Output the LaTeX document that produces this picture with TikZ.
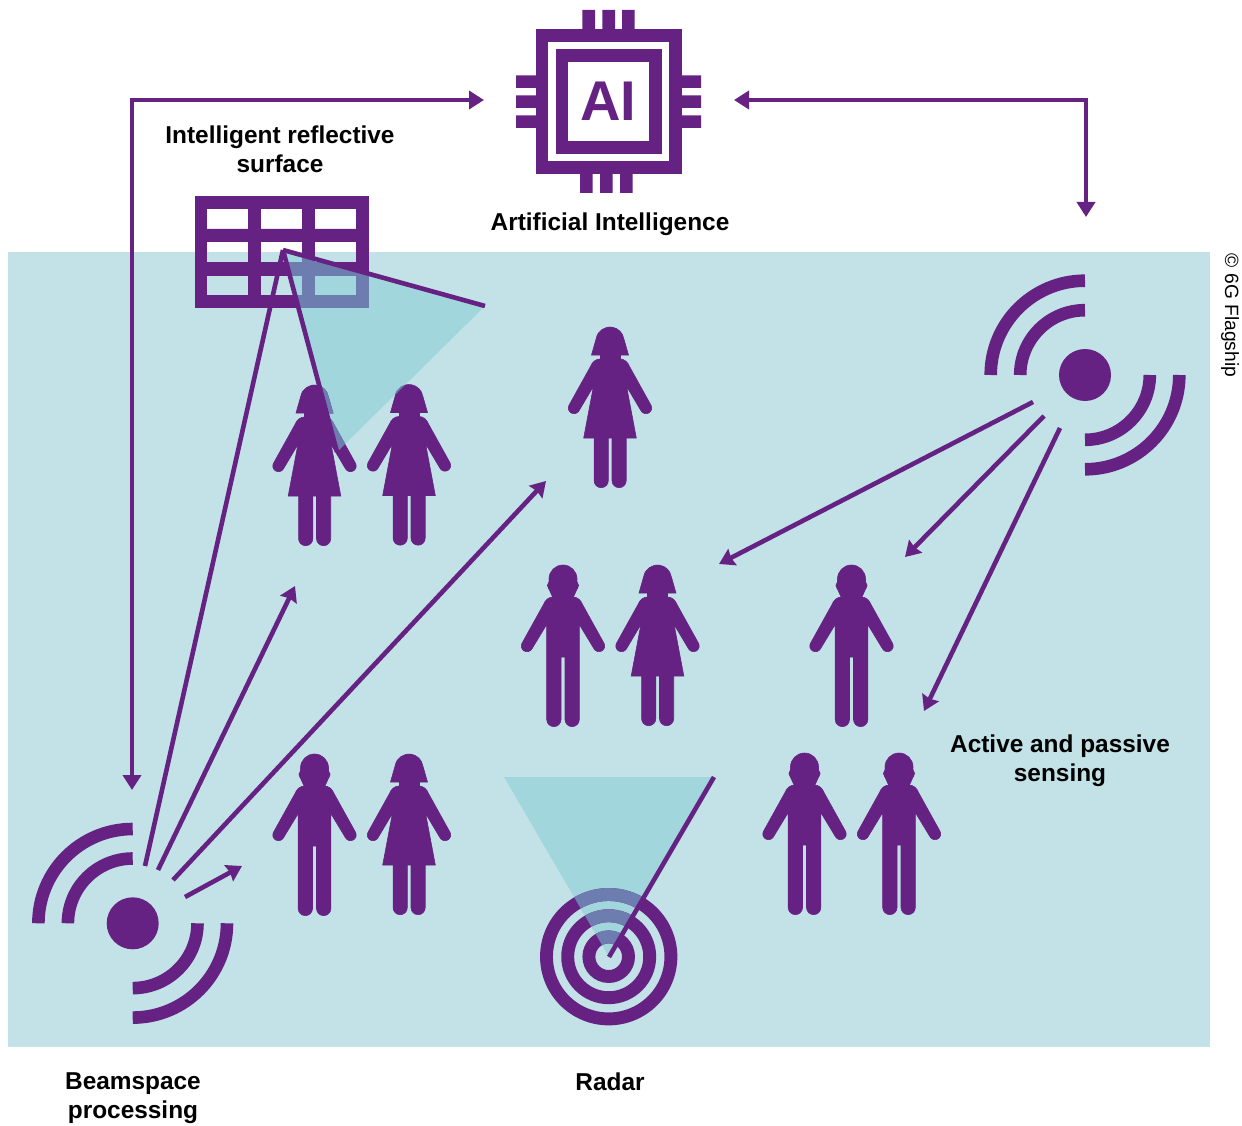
\documentclass[tikz,border=0pt]{standalone}
\usepackage{fontspec}
\setmainfont{Liberation Sans}
\usetikzlibrary{arrows.meta}
\definecolor{plum}{HTML}{662282}
\definecolor{seabg}{HTML}{C2E2E7}
\definecolor{conecol}{HTML}{A1D6DC}
\definecolor{overlap}{HTML}{6D7DB0}
\tikzset{
  label text/.style={font=\fontsize{24.4}{29}\selectfont\bfseries,text=black,align=center,inner sep=0pt},
  ray/.style={plum,line width=4.6pt},
  arrowray/.style={ray,-{Stealth[length=15pt,width=18pt,inset=1.5pt]}},
  bothray/.style={ray,{Stealth[length=15pt,width=18pt,inset=0pt]}-{Stealth[length=15pt,width=18pt,inset=0pt]}},
  wave/.style={plum,line width=12.6pt,line cap=butt},
  solid shape/.style={fill=#1,draw=#1,line width=0.6pt}
}
\newcommand{\manshape}[3]{%
  \begin{scope}[shift={(#1,-#2)}]
  \path[solid shape=#3] (0,-14) circle[radius=14pt] (-11.4,-20.5) circle[radius=4.2pt] (11.4,-20.5) circle[radius=4.2pt];
  \path[solid shape=#3] (-13.8,-15) -- (-14.5,-23) -- (-10,-33) -- (10,-33) -- (14.5,-23) -- (13.8,-15) -- cycle;
  \path[solid shape=#3] (-10,-32) .. controls (-14,-32) and (-18,-35) .. (-19.5,-39.5) -- (-40.94,-78.15) arc[start angle=150,end angle=330,radius=5.7pt] -- (-16.3,-59.5) -- (-16.3,-154.5) arc[start angle=180,end angle=360,radius=7.15pt] -- (-2,-92) -- (2,-92) -- (2,-154.5) arc[start angle=180,end angle=360,radius=7.15pt] -- (16.3,-59.5) -- (31.06,-83.85) arc[start angle=210,end angle=390,radius=5.7pt] -- (19.5,-39.5) .. controls (18,-35) and (14,-32) .. (10,-32) -- cycle;
  \end{scope}}
\newcommand{\womanshape}[3]{%
  \begin{scope}[shift={(#1,-#2)}]
  \path[solid shape=#3] (-18.5,-28) -- (-13.8,-11.6) arc[start angle=170,end angle=10,radius=14pt] -- (18.5,-28) -- cycle;
  \path[solid shape=#3] (-10,-27) rectangle (10,-34);
  \path[solid shape=#3] (-10,-32) .. controls (-14,-32) and (-18,-35) .. (-19.5,-39.5) -- (-40.94,-78.15) arc[start angle=150,end angle=330,radius=5.7pt] -- (-16.6,-59.5) -- (-26.3,-111) -- (26.3,-111) -- (16.6,-59.5) -- (31.06,-83.85) arc[start angle=210,end angle=390,radius=5.7pt] -- (19.5,-39.5) .. controls (18,-35) and (14,-32) .. (10,-32) -- cycle;
  \path[solid shape=#3] (-15.9,-110) -- (-15.9,-153.6) arc[start angle=180,end angle=360,radius=7.1pt] -- (-1.7,-110) -- cycle;
  \path[solid shape=#3] (2,-110) -- (2,-153.6) arc[start angle=180,end angle=360,radius=7.1pt] -- (16.2,-110) -- cycle;
  \end{scope}}
\newcommand{\gridshape}[1]{%
  \path[solid shape=#1,even odd rule] (195,-196.7) rectangle (368,-307.3)
    (206.7,-208.3) rectangle (248.3,-229) (260.7,-208.3) rectangle (302,-229) (314.7,-208.3) rectangle (356,-229)
    (206.7,-241.7) rectangle (248.3,-262) (260.7,-241.7) rectangle (302,-262) (314.7,-241.7) rectangle (356,-262)
    (206.7,-275) rectangle (248.3,-295.3) (260.7,-275) rectangle (302,-295.3) (314.7,-275) rectangle (356,-295.3);}
\newcommand{\radarshape}[1]{%
  \draw[#1,line width=12.9pt] (608.7,-956.7) circle[radius=62.2pt] (608.7,-956.7) circle[radius=41pt] (608.7,-956.7) circle[radius=19.8pt];}
\newcommand{\antenna}[2]{%
  \begin{scope}[shift={(#1,-#2)}]
  \fill[plum] (0,0) circle[radius=26pt];
  \draw[wave] (-94.3,0) arc[start angle=180,end angle=90,radius=94.3pt];
  \draw[wave] (-64.8,0) arc[start angle=180,end angle=90,radius=64.8pt];
  \draw[wave] (94.3,0) arc[start angle=0,end angle=-90,radius=94.3pt];
  \draw[wave] (64.8,0) arc[start angle=0,end angle=-90,radius=64.8pt];
  \end{scope}}
\begin{document}
\begin{tikzpicture}[x=1pt,y=1pt]
\useasboundingbox (0,0) rectangle (1242,-1126);
\fill[seabg] (8,-252) rectangle (1210,-1047);
% coordinates
\coordinate (apex) at (283,-250);
\coordinate (reflA) at (485,-306);
\coordinate (reflB) at (337,-452);
\coordinate (radC) at (609,-957);
\coordinate (radA) at (504,-777);
\coordinate (radB) at (714,-777);
% cones
\fill[conecol] (apex) -- (reflA) -- (reflB) -- cycle;
\fill[conecol] (radC) -- (radA) -- (radB) -- cycle;
% chip
\draw[plum,line width=12.6pt] (542,-35.3) rectangle (675.3,-167.3);
\draw[plum,line width=12.6pt] (562,-55.3) rectangle (655.3,-147.3);
\fill[plum] (582.3,-10) rectangle (595,-29.5) (602.3,-10) rectangle (615,-29.5) (622,-10) rectangle (634.7,-29.5);
\fill[plum] (580,-173) rectangle (592.7,-193) (600,-173) rectangle (612.7,-193) (620,-173) rectangle (632.7,-193);
\fill[plum] (516,-75.3) rectangle (536,-88) (516,-95.3) rectangle (536,-108) (516,-115.3) rectangle (536,-128);
\fill[plum] (681,-75.3) rectangle (701,-88) (681,-95.3) rectangle (701,-108) (681,-115.3) rectangle (701,-128);
\node[font=\fontsize{56}{60}\selectfont\bfseries,text=plum,inner sep=0pt] (ai) at (608.5,-101) {AI};
\coordinate (chipL) at (484,-100);
\coordinate (chipR) at (734,-100);
\coordinate (beamTop) at (132,-790);
\coordinate (cornerL) at (132,-100);
\coordinate (cornerR) at (1086,-100);
\coordinate (antTop) at (1086,-217);
% shapes
\gridshape{plum}
\radarshape{plum}
\antenna{132.7}{923.3}
\antenna{1085}{375}
\womanshape{314.5}{385}{plum}
\womanshape{409}{384.5}{plum}
\womanshape{610}{327}{plum}
\manshape{563}{565}{plum}
\womanshape{657.5}{565}{plum}
\manshape{851.5}{565}{plum}
\manshape{314.5}{754}{plum}
\womanshape{409}{754}{plum}
\manshape{804.5}{753}{plum}
\manshape{899}{753}{plum}
% overlaps
\begin{scope}
\clip (apex) -- (reflA) -- (reflB) -- cycle;
\gridshape{overlap}
\womanshape{314.5}{385}{overlap}
\womanshape{409}{384.5}{overlap}
\end{scope}
\begin{scope}
\clip (radC) -- (radA) -- (radB) -- cycle;
\radarshape{overlap}
\end{scope}
% lines
\draw[ray] (apex) -- (reflA);
\draw[ray] (apex) -- (reflB);
\coordinate (b1) at (145,-866);
\coordinate (b2) at (158,-870);
\coordinate (b3) at (173,-880);
\coordinate (b4) at (185,-897);
\coordinate (t2) at (295,-586);
\coordinate (t3) at (546,-481);
\coordinate (t4) at (242,-866);
\draw[ray] (b1) -- (apex);
\draw[arrowray] (b2) -- (t2);
\draw[arrowray] (b3) -- (t3);
\draw[arrowray] (b4) -- (t4);
\coordinate (r1) at (1033,-402);
\coordinate (r2) at (1044,-416);
\coordinate (r3) at (1060,-428);
\coordinate (e1) at (719,-564);
\coordinate (e2) at (905,-557);
\coordinate (e3) at (924,-711);
\draw[arrowray] (r1) -- (e1);
\draw[arrowray] (r2) -- (e2);
\draw[arrowray] (r3) -- (e3);
\draw[ray] (radC) -- (radB);
\draw[bothray] (chipL) -- (cornerL) -- (beamTop);
\draw[bothray] (chipR) -- (cornerR) -- (antTop);
% labels
\node[label text] (lirs) at (280,-149) {Intelligent reflective\\surface};
\node[label text] (lai) at (610,-224) {Artificial Intelligence};
\node[label text] (lact) at (1060,-760.5) {Active and passive\\sensing};
\node[label text] (lbeam) at (133,-1098.5) {Beamspace\\processing};
\node[label text] (lrad) at (610,-1082) {Radar};
\node[font=\fontsize{19.2}{22}\selectfont,text=black,inner sep=0pt,rotate=-90] (lcopy) at (1230,-315.5) {© 6G Flagship};
\end{tikzpicture}
\end{document}
